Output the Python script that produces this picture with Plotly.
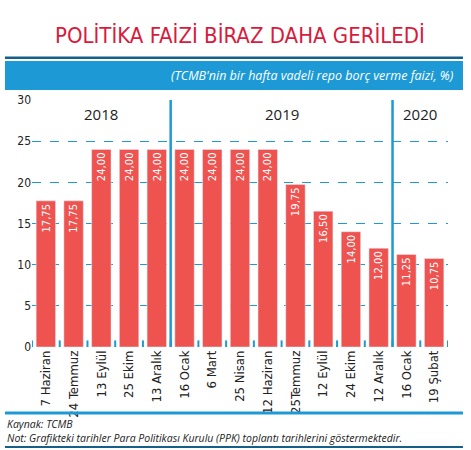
import plotly.graph_objects as go

# PPK meeting dates and one-week repo rate
dates = ["7 Haziran", "24 Temmuz", "13 Eylül", "25 Ekim", "13 Aralık",
         "16 Ocak", "6 Mart", "25 Nisan", "12 Haziran", "25Temmuz",
         "12 Eylül", "24 Ekim", "12 Aralık", "16 Ocak", "19 Şubat"]
rates = [17.75, 17.75, 24, 24, 24, 24, 24, 24, 24, 19.75, 16.5, 14, 12, 11.25, 10.75]
years = ["2018", "2019", "2020"]
year_pos = [2, 8.5, 13.5]
year_breaks = [4.5, 12.5]

red = "#ee5350"
blue = "#1d9ad6"
dark = "#15608a"
narrow = "DejaVu Sans Condensed, Liberation Sans Narrow"

x = list(range(len(dates)))
labels = [f"{v:.2f}".replace(".", ",") for v in rates]

fig = go.Figure()
fig.add_trace(go.Bar(x=x, y=rates, width=0.7, marker_color=red,
                     text=labels, textposition="inside", insidetextanchor="end",
                     textangle=-90, textfont=dict(color="white", size=15, family=narrow),
                     hoverinfo="skip"))

shapes = []
for b in year_breaks:
    shapes.append(dict(type="line", x0=b, x1=b, y0=0, y1=30, xref="x", yref="y",
                       line=dict(color=blue, width=2.5)))
for i in range(len(dates) + 1):
    shapes.append(dict(type="line", x0=i - 0.5, x1=i - 0.5, y0=0, y1=0.8, xref="x", yref="y",
                       line=dict(color=blue, width=2)))
# header band and rules
shapes += [
    dict(type="rect", xref="paper", yref="paper", x0=-0.065, x1=1.036, y0=1.166, y1=1.176,
         fillcolor=dark, line_width=0),
    dict(type="rect", xref="paper", yref="paper", x0=-0.065, x1=1.036, y0=1.04, y1=1.158,
         fillcolor=blue, line_width=0),
    dict(type="line", xref="paper", yref="paper", x0=-0.065, x1=1.036, y0=-0.267, y1=-0.267,
         line=dict(color=blue, width=3)),
    dict(type="line", xref="paper", yref="paper", x0=-0.065, x1=1.036, y0=-0.405, y1=-0.405,
         line=dict(color=dark, width=2)),
]

annotations = [dict(x=p, y=28.3, text=t, showarrow=False, xref="x", yref="y",
                    font=dict(size=15, color="#222", family="Open Sans"))
               for p, t in zip(year_pos, years)]
annotations += [
    dict(x=0.5, y=1.262, xref="paper", yref="paper", showarrow=False, yanchor="middle",
         text="POLİTİKA FAİZİ BİRAZ DAHA GERİLEDİ",
         font=dict(size=22, color="#d81b3c", family=narrow)),
    dict(x=1.02, y=1.1, xref="paper", yref="paper", showarrow=False, xanchor="right",
         yanchor="middle",
         text="<i>(TCMB'nin bir hafta vadeli repo borç verme faizi, %)</i>",
         font=dict(size=12.5, color="white", family="Open Sans")),
    dict(x=-0.065, y=-0.275, xref="paper", yref="paper", showarrow=False, xanchor="left",
         yanchor="top", align="left",
         text="<i>Kaynak: TCMB<br>Not: Grafikteki tarihler Para Politikası Kurulu (PPK) toplantı tarihlerini göstermektedir.</i>",
         font=dict(size=10.5, color="#222", family="Open Sans")),
]

fig.update_layout(
    width=471, height=450, margin=dict(l=32, r=23, t=100, b=103),
    paper_bgcolor="white", plot_bgcolor="white", showlegend=False,
    shapes=shapes, annotations=annotations,
    xaxis=dict(tickmode="array", tickvals=x, ticktext=dates, tickangle=-90,
               range=[-0.5, 14.5], showgrid=False, zeroline=False, automargin=False,
               tickfont=dict(size=13, color="#222", family=narrow)),
    yaxis=dict(range=[0, 30], dtick=5, showgrid=True, gridcolor=blue, griddash="dash",
               gridwidth=0.6, zeroline=False, automargin=False,
               tickfont=dict(size=12, color="#222", family=narrow)),
)

fig.write_html("out.html", config={"displayModeBar": False},
               post_script="document.body.style.margin='0';")
